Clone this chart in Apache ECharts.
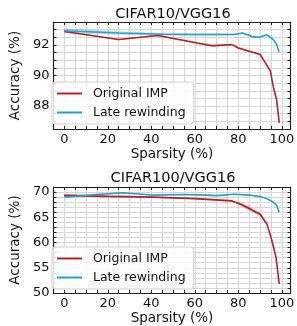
<!DOCTYPE html>
<html>
<head>
<meta charset="utf-8">
<script src="https://cdn.jsdelivr.net/npm/echarts@6/dist/echarts.min.js"></script>
<style>
  html, body { margin: 0; padding: 0; background: #fff; }
  #chart { width: 297px; height: 326px; }
</style>
</head>
<body>
<div id="chart"></div>
<script>
// CIFAR10 / VGG16
var c10ImpX = [0, 25, 43, 61, 68, 77, 80, 90, 94.7, 96, 97.6, 98.8]
var c10Imp = [92.88, 92.35, 92.62, 92.13, 91.95, 92.02, 91.8, 91.38, 90.3, 89.3, 88.4, 86.9]
var c10ImpStd = [0.04, 0.04, 0.04, 0.06, 0.1, 0.04, 0.06, 0.06, 0.05, 0.05, 0.05, 0.05]
var c10LateX = [0, 25, 45, 60, 70, 78, 82, 86, 89.5, 93.2, 96.1, 97.6, 98.7]
var c10Late = [92.93, 92.78, 92.7, 92.68, 92.68, 92.68, 92.78, 92.56, 92.5, 92.66, 92.35, 92.03, 91.55]
var c10LateStd = [0.16, 0.12, 0.08, 0.08, 0.06, 0.05, 0.05, 0.06, 0.04, 0.08, 0.06, 0.05, 0.05]

// CIFAR100 / VGG16
var c100ImpX = [0, 20, 40, 60, 77, 80, 83, 90, 93.2, 95.4, 97.3, 98.8]
var c100Imp = [69.35, 69.15, 69.0, 68.7, 68.25, 67.8, 67.2, 65.6, 63.6, 60.4, 57.1, 51.8]
var c100ImpStd = [0.25, 0.2, 0.15, 0.15, 0.15, 0.25, 0.4, 0.35, 0.3, 0.3, 0.2, 0.2]
var c100LateX = [0, 15, 27, 40, 55, 65, 70, 78, 85, 90, 93, 95.5, 97.6, 98.7]
var c100Late = [69.0, 69.5, 69.85, 69.4, 69.5, 69.4, 69.3, 69.55, 69.4, 69.1, 68.7, 68.15, 67.4, 66.0]
var c100LateStd = [0.2, 0.15, 0.15, 0.1, 0.1, 0.1, 0.1, 0.1, 0.1, 0.1, 0.1, 0.1, 0.1, 0.1]

var titles = ['CIFAR10/VGG16', 'CIFAR100/VGG16']
var seriesNames = ['Original IMP', 'Late rewinding']
var xTicks = [0, 20, 40, 60, 80, 100]

var red = '#b0232a'
var teal = '#2a9fc4'
var font = 'DejaVu Sans'

function pairs(xs, ys) {
  return xs.map(function (x, i) { return [x, ys[i]] })
}

// shaded +/- std band, drawn as one polygon through the axis scales
function band(xs, ys, sd, color, grid) {
  var data = xs.map(function (x, i) { return [x, ys[i] - sd[i], ys[i] + sd[i]] })
  return {
    type: 'custom', xAxisIndex: grid, yAxisIndex: grid, silent: true, z: 1, clip: true,
    data: data,
    renderItem: function (params, api) {
      if (params.dataIndexInside !== 0) return
      var upper = data.map(function (d) { return api.coord([d[0], d[2]]) })
      var lower = data.map(function (d) { return api.coord([d[0], d[1]]) }).reverse()
      return {
        type: 'polygon',
        shape: { points: upper.concat(lower) },
        style: { fill: color, opacity: 0.3 }
      }
    }
  }
}

function line(name, xs, ys, color, grid) {
  return {
    name: name, type: 'line', xAxisIndex: grid, yAxisIndex: grid,
    data: pairs(xs, ys), symbol: 'none', color: color,
    lineStyle: { color: color, width: 1.6 }, z: 3
  }
}

var spine = { show: true, onZero: false, lineStyle: { color: '#222', width: 1.2 } }
var tick = { show: true, inside: true, length: 3, lineStyle: { color: '#222' } }

function xAxis(grid) {
  return {
    type: 'value', gridIndex: grid, min: -5, max: 104, interval: 5,
    name: 'Sparsity (%)', nameLocation: 'middle', nameGap: 18,
    nameTextStyle: { fontFamily: font, fontSize: 13.5, color: '#111' },
    axisLine: spine, axisTick: tick,
    axisLabel: {
      fontFamily: font, fontSize: 13, color: '#111', margin: 4,
      showMinLabel: false, showMaxLabel: false,
      formatter: function (v) { return xTicks.indexOf(v) >= 0 ? String(v) : '' }
    },
    splitLine: { show: true, lineStyle: { color: '#d6d6d6', width: 1 } }
  }
}

function yAxis(grid, min, max, step, labelEvery) {
  return {
    type: 'value', gridIndex: grid, min: min, max: max, interval: step,
    name: 'Accuracy (%)', nameLocation: 'middle', nameGap: 23, nameRotate: 90,
    nameTextStyle: { fontFamily: font, fontSize: 13.5, color: '#111' },
    axisLine: spine, axisTick: tick,
    axisLabel: {
      fontFamily: font, fontSize: 13, color: '#111', margin: 4,
      showMaxLabel: false,
      formatter: function (v) {
        var r = Math.round(v)
        return (Math.abs(v - r) < 1e-6 && r % labelEvery === 0) ? String(r) : ''
      }
    },
    splitLine: { show: true, lineStyle: { color: '#d6d6d6', width: 1 } }
  }
}

// top / right spines (no labels)
function frame(grid, pos, min, max, step) {
  return {
    type: 'value', gridIndex: grid, position: pos, min: min, max: max, interval: step,
    axisLine: spine, axisTick: tick, axisLabel: { show: false }, splitLine: { show: false }
  }
}

function legend(top) {
  return {
    data: seriesNames, left: 52, top: top, orient: 'vertical',
    icon: 'rect', itemWidth: 25, itemHeight: 2, itemGap: 6,
    padding: [5, 8, 5, 5],
    borderColor: '#d0d0d0', borderWidth: 1, borderRadius: 3,
    backgroundColor: 'rgba(255,255,255,0.85)',
    textStyle: { fontFamily: font, fontSize: 12.5, color: '#111', padding: [0, 0, 0, 6] }
  }
}

var chart = echarts.init(document.getElementById('chart'), null, { renderer: 'canvas' })

chart.setOption({
  animation: false,
  backgroundColor: '#fff',
  title: [
    { text: titles[0], left: 168, top: 2, textAlign: 'center',
      textStyle: { fontFamily: font, fontSize: 14.5, fontWeight: 'normal', color: '#111' } },
    { text: titles[1], left: 168, top: 166, textAlign: 'center',
      textStyle: { fontFamily: font, fontSize: 14.5, fontWeight: 'normal', color: '#111' } }
  ],
  legend: [legend(82), legend(247)],
  grid: [
    { left: 46, right: 6, top: 22, height: 107 },
    { left: 46, right: 6, top: 187, height: 110 }
  ],
  xAxis: [
    xAxis(0), xAxis(1),
    frame(0, 'top', -5, 104, 5), frame(1, 'top', -5, 104, 5)
  ],
  yAxis: [
    yAxis(0, 86.5, 93.5, 0.5, 2), yAxis(1, 50, 71, 1, 5),
    frame(0, 'right', 86.5, 93.5, 0.5), frame(1, 'right', 50, 71, 1)
  ],
  series: [
    band(c10LateX, c10Late, c10LateStd, teal, 0),
    band(c10ImpX, c10Imp, c10ImpStd, red, 0),
    band(c100LateX, c100Late, c100LateStd, teal, 1),
    band(c100ImpX, c100Imp, c100ImpStd, red, 1),
    line(seriesNames[0], c10ImpX, c10Imp, red, 0),
    line(seriesNames[1], c10LateX, c10Late, teal, 0),
    line(seriesNames[0], c100ImpX, c100Imp, red, 1),
    line(seriesNames[1], c100LateX, c100Late, teal, 1)
  ]
})
</script>
</body>
</html>
